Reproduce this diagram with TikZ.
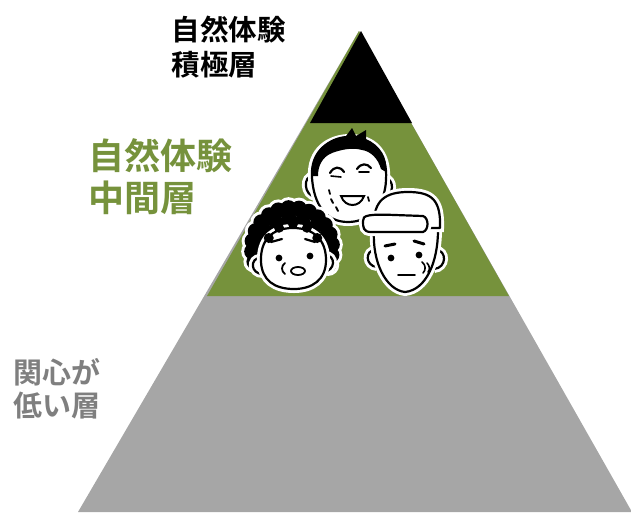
\documentclass[tikz,border=0pt]{standalone}
\usepackage{fontspec}
\newfontfamily\cjk{Noto Sans CJK JP Bold}
\definecolor{olive}{HTML}{76923C}
\definecolor{base}{HTML}{A6A6A6}
\definecolor{greytext}{HTML}{7F7F7F}
\begin{document}
\begin{tikzpicture}[x=1pt,y=-1pt,
  label/.style={inner sep=0pt,anchor=base west},
  ink/.style={line width=2.2pt,line cap=round,line join=round},
  skin/.style={fill=white,draw=black,line width=2.2pt,line join=round,
    preaction={draw=white,line width=8pt}},
  curl/.style={fill=black,preaction={draw=white,line width=6pt}}]
\useasboundingbox (0,0) rectangle (631,512);

% pyramid layers
\fill[base] (359,31) -- (78,512) -- (632,512) -- cycle;
\fill[olive] (359,31) -- (207,296) -- (509,296) -- cycle;
\fill[black] (361,31) -- (310,123) -- (412,123) -- cycle;

% labels
\node[label,font=\cjk\fontsize{28.5}{35}\selectfont,text=black] (top1) at (171.5,40) {自然体験};
\node[label,font=\cjk\fontsize{28.5}{35}\selectfont,text=black] (top2) at (171.5,75) {積極層};
\node[label,font=\cjk\fontsize{36}{43}\selectfont,text=olive] (mid1) at (88,169.5) {自然体験};
\node[label,font=\cjk\fontsize{36}{43}\selectfont,text=olive] (mid2) at (88,211) {中間層};
\node[label,font=\cjk\fontsize{29}{35}\selectfont,text=greytext] (low1) at (13.5,383) {関心が};
\node[label,font=\cjk\fontsize{29}{35}\selectfont,text=greytext] (low2) at (13.5,416) {低い層};

% man in the middle
\draw[skin] (313,176) .. controls (303,175) and (303,196) .. (316,197);
\draw[skin] (384,177) .. controls (395,179) and (395,196) .. (382,198);
\draw[skin] (312,178) .. controls (310,150) and (330,138) .. (350,138)
  .. controls (372,138) and (388,152) .. (386,180)
  .. controls (385,205) and (370,222) .. (348,222)
  .. controls (326,222) and (314,205) .. (312,178) -- cycle;
\fill[black] (312,176) .. controls (310,150) and (330,137) .. (346,136)
  -- (352,128) -- (356,136) -- (366,130) -- (366,139)
  .. controls (380,145) and (388,158) .. (386,172)
  -- (381,169) .. controls (378,158) and (370,151) .. (362,150)
  .. controls (352,147) and (340,150) .. (332,153)
  .. controls (322,157) and (318,166) .. (318,176) -- cycle;
\draw[ink] (330,173) .. controls (334,166) and (340,166) .. (344,172);
\draw[ink] (357,169) .. controls (361,163) and (367,163) .. (371,168);
\draw[ink,line width=1.6pt] (331,176) -- (341,177);
\draw[ink,line width=1.6pt] (359,172) -- (369,172);
\draw[fill=white,draw=black,line width=2pt] (341,196) .. controls (345,208) and (360,208) .. (364,196) -- cycle;
\draw[ink,line width=1.8pt] (329,190) -- (330,194) (331,199) -- (333,203) (336,207) -- (338,211);
\draw[ink,line width=1.8pt] (368,197) -- (369,201);

% woman with curly hair
\foreach \a in {-25,-10,...,205}
  \fill[white] ({292+40*cos(\a)},{248-40*sin(\a)}) circle (11);
\foreach \a in {-25,-10,...,205}
  \fill[black] ({292+40*cos(\a)},{248-40*sin(\a)}) circle (8);
\foreach \a in {-5,20,...,195}
  \fill[black] ({292+30*cos(\a)},{250-30*sin(\a)}) circle (8);
\draw[skin] (260,258) .. controls (250,258) and (250,274) .. (263,274);
\draw[skin] (325,255) .. controls (336,255) and (336,271) .. (323,272);
\draw[skin] (261,262) .. controls (260,240) and (272,228) .. (293,228)
  .. controls (314,228) and (326,240) .. (326,260)
  .. controls (326,280) and (312,289) .. (294,289)
  .. controls (274,289) and (262,280) .. (261,262) -- cycle;
\foreach \a in {30,60,...,150}
  \fill[black] ({293+28*cos(\a)},{252-28*sin(\a)}) circle (5);
\draw[ink] (271,242) -- (282,239);
\draw[ink] (305,239) -- (315,242);
\fill[black] (279,258) circle (3.4);
\fill[black] (310,256) circle (3.4);
\draw[ink,line width=1.8pt] (285,263) .. controls (281,266) and (281,271) .. (285,274);
\draw[black,line width=1.8pt,fill=white] (298,271) ellipse [x radius=7,y radius=4];

% man with a cap
\draw[skin] (436,250) .. controls (447,250) and (447,268) .. (434,269);
\draw[skin] (375,250) .. controls (365,250) and (365,266) .. (377,267);
\draw[skin] (374,230) .. controls (372,262) and (386,290) .. (405,292)
  .. controls (426,290) and (438,262) .. (438,230) -- cycle;
\draw[skin] (374,226) .. controls (373,200) and (386,192) .. (408,192)
  .. controls (432,192) and (441,200) .. (440,228) -- (374,228) -- cycle;
\draw[skin] (363,221) .. controls (362,215) and (370,214) .. (395,215)
  -- (423,216) .. controls (429,218) and (429,230) .. (423,232)
  -- (371,232) .. controls (363,232) and (363,227) .. (363,221) -- cycle;
\draw[ink,line width=3pt] (385,246) -- (395,244);
\draw[ink,line width=3pt] (414,241) -- (424,244);
\fill[black] (391,258) circle (3.4);
\fill[black] (419,255) circle (3.4);
\draw[ink,line width=1.8pt] (398,275) -- (415,275);
\draw[ink,line width=1.6pt] (422,262) .. controls (426,265) and (426,270) .. (423,273);
\draw[ink,line width=1.6pt] (427,263) .. controls (430,266) and (430,270) .. (428,272);
\end{tikzpicture}
\end{document}
